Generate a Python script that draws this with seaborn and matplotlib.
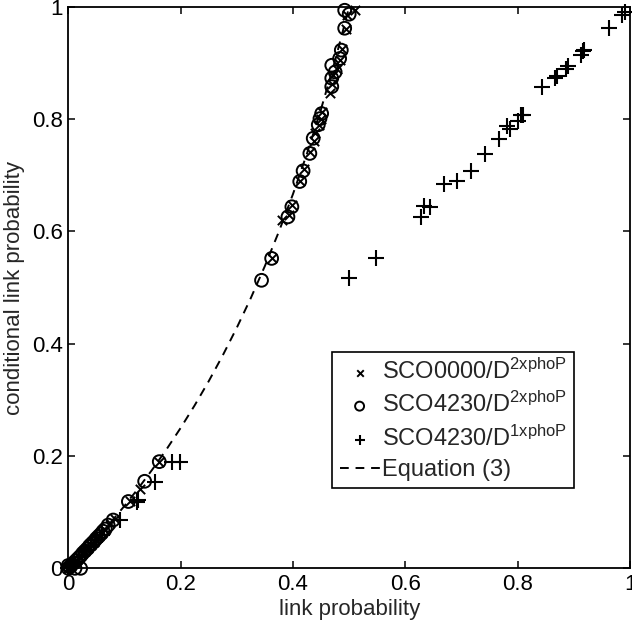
import numpy as np
import pandas as pd
import matplotlib
matplotlib.use("Agg")
import matplotlib.pyplot as plt
import seaborn as sns

# SCO0000/D2xphoP  (x markers)
x_sco0000 = [0.511, 0.497, 0.494, 0.487, 0.483, 0.478, 0.472, 0.469, 0.466, 0.452,
             0.449, 0.446, 0.440, 0.437, 0.431, 0.419, 0.413, 0.399, 0.393, 0.380,
             0.362, 0.162, 0.128, 0.110, 0.083, 0.075, 0.065, 0.060, 0.055, 0.050,
             0.045, 0.040, 0.035, 0.030, 0.025, 0.020, 0.015, 0.010, 0.005, 0.002, 0.0]
y_sco0000 = [0.994, 0.985, 0.960, 0.925, 0.905, 0.890, 0.878, 0.862, 0.847, 0.812,
             0.800, 0.790, 0.775, 0.762, 0.742, 0.712, 0.690, 0.648, 0.630, 0.620,
             0.552, 0.190, 0.142, 0.120, 0.088, 0.080, 0.068, 0.063, 0.058, 0.052,
             0.047, 0.042, 0.036, 0.031, 0.026, 0.021, 0.015, 0.010, 0.005, 0.002, 0.0]

# SCO4230/D2xphoP  (circles)
x_sco4230_2 = [0.492, 0.500, 0.492, 0.486, 0.483, 0.469, 0.475, 0.469, 0.469, 0.451,
               0.448, 0.445, 0.436, 0.430, 0.418, 0.412, 0.398, 0.391, 0.362, 0.344,
               0.162, 0.136, 0.107, 0.080, 0.071, 0.066, 0.062, 0.058, 0.054, 0.050,
               0.046, 0.042, 0.038, 0.034, 0.030, 0.026, 0.022, 0.018, 0.014, 0.010,
               0.006, 0.003, 0.0, 0.022, 0.012, 0.0]
y_sco4230_2 = [0.994, 0.987, 0.962, 0.923, 0.908, 0.896, 0.884, 0.873, 0.858, 0.810,
               0.801, 0.790, 0.766, 0.739, 0.708, 0.689, 0.644, 0.626, 0.552, 0.513,
               0.190, 0.155, 0.119, 0.086, 0.077, 0.070, 0.066, 0.061, 0.057, 0.053,
               0.048, 0.044, 0.040, 0.035, 0.031, 0.027, 0.022, 0.018, 0.014, 0.010,
               0.006, 0.003, 0.0, 0.0, 0.0, 0.005]

# SCO4230/D1xphoP  (plus markers)
x_sco4230_1 = [0.0, 0.005, 0.010, 0.020, 0.030, 0.040, 0.050, 0.060, 0.092, 0.122,
               0.125, 0.154, 0.184, 0.199, 0.4995, 0.547, 0.627, 0.633, 0.644, 0.668,
               0.692, 0.716, 0.741, 0.766, 0.781, 0.786, 0.801, 0.805, 0.810, 0.844,
               0.866, 0.869, 0.886, 0.890, 0.912, 0.916, 0.918, 0.963, 0.985, 0.991]
y_sco4230_1 = [0.0, 0.005, 0.010, 0.020, 0.030, 0.040, 0.050, 0.060, 0.086, 0.119,
               0.122, 0.154, 0.190, 0.190, 0.517, 0.552, 0.626, 0.646, 0.643, 0.684,
               0.689, 0.708, 0.738, 0.764, 0.788, 0.782, 0.797, 0.807, 0.807, 0.857,
               0.874, 0.877, 0.890, 0.895, 0.914, 0.922, 0.924, 0.962, 0.985, 0.991]

# Equation (3) curve
eq_x = [0.0, 0.025, 0.05, 0.075, 0.1, 0.125, 0.15, 0.175, 0.2, 0.225, 0.25,
        0.275, 0.3, 0.325, 0.35, 0.375, 0.4, 0.425, 0.45, 0.475, 0.5]
eq_y = [0.0, 0.0256, 0.0526, 0.0811, 0.1111, 0.1429, 0.1765, 0.2121, 0.25, 0.2903,
        0.3333, 0.3793, 0.4286, 0.4815, 0.5385, 0.6, 0.6667, 0.7391, 0.8182, 0.9048, 1.0]

sns.set_style("ticks")
plt.rcParams['font.family'] = ['Liberation Sans', 'DejaVu Sans']
plt.rcParams['mathtext.fontset'] = 'custom'
plt.rcParams['mathtext.rm'] = 'Liberation Sans'
plt.rcParams['mathtext.it'] = 'Liberation Sans'

fig = plt.figure(figsize=(6.32, 6.27), dpi=100)
ax = fig.add_axes([0.108, 0.0936, 0.889, 0.8954])

sns.scatterplot(x=x_sco0000, y=y_sco0000, marker='x', s=45, color='black',
                linewidth=1.4, clip_on=False, ax=ax,
                label='SCO0000/D$^{\\mathrm{2xphoP}}$')
sns.scatterplot(x=x_sco4230_2, y=y_sco4230_2, marker='o', s=85, color='black',
                facecolors='none', edgecolor='black', linewidth=1.4, clip_on=False,
                ax=ax, label='SCO4230/D$^{\\mathrm{2xphoP}}$')
sns.scatterplot(x=x_sco4230_1, y=y_sco4230_1, marker='+', s=120, color='black',
                linewidth=1.5, clip_on=False, ax=ax,
                label='SCO4230/D$^{\\mathrm{1xphoP}}$')
sns.lineplot(x=eq_x, y=eq_y, color='black', linewidth=1.4,
             sort=False, ax=ax, label='Equation (3)')
ax.lines[-1].set_linestyle((0, (4.5, 3.5)))

ax.set_xlim(0, 1)
ax.set_ylim(0, 1)
ticks = [0, 0.2, 0.4, 0.6, 0.8, 1]
labels = ['0', '0.2', '0.4', '0.6', '0.8', '1']
ax.set_xticks(ticks)
ax.set_xticklabels(labels)
ax.set_yticks(ticks)
ax.set_yticklabels(labels)
ax.tick_params(direction='in', top=True, right=True, length=5, width=1.1,
               labelsize=16, colors='black', pad=4)
for sp in ax.spines.values():
    sp.set_visible(True)
    sp.set_linewidth(1.3)
    sp.set_color('black')

ax.set_xlabel('link probability', fontsize=16, labelpad=3)
ax.set_ylabel('conditional link probability', fontsize=16, labelpad=5)

leg = ax.legend(loc='upper right', bbox_to_anchor=(0.90, 0.386), fontsize=17,
                frameon=True, fancybox=False, framealpha=1, edgecolor='black',
                handlelength=1.7, handletextpad=0.1, borderpad=0.3,
                labelspacing=0.35, borderaxespad=0, markerscale=0.7)
leg.get_frame().set_linewidth(1.2)

plt.savefig('out.png', dpi=100)
